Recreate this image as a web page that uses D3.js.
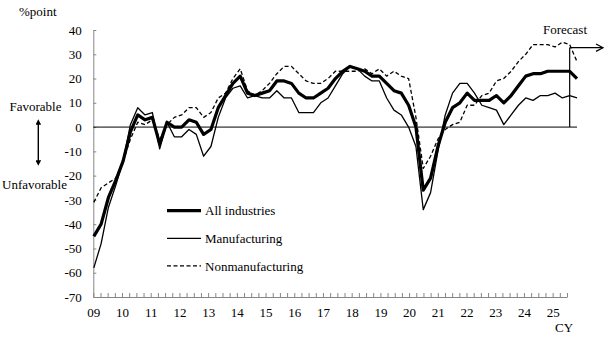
<!DOCTYPE html>
<html>
<head>
<meta charset="utf-8">
<script src="https://cdn.jsdelivr.net/npm/d3@7"></script>
<style>
  body { margin: 0; background: #fff; }
  svg text { fill: #000; font-weight: normal; }
</style>
</head>
<body>
<div id="chart"></div>
<script>
// ------------------------------
//  Business conditions DI, quarterly (09 Q1 - 25 Q3 forecast)
// ------------------------------

const FONT = "'Times New Roman', Times, 'Liberation Serif', Tinos, 'DejaVu Serif', 'Noto Serif', FreeSerif, serif";

// 1. Data, one value per quarter from 09 Q1
const yearLabels = ["09","10","11","12","13","14","15","16","17","18","19","20","21","22","23","24","25"];
const yTicks = [40, 30, 20, 10, 0, -10, -20, -30, -40, -50, -60, -70];

const allIndustries = [
  -45,-40,-29,-22, -14,-2,5,3, 4,-7,2,0, 0,3,2,-3, -1,8,13,18, 21,
  14,13,14,15, 19,19,18,
  14,12,12,14, 16,20,23,25, 24,23,21,21, 18,15,14,9,
  0,-26,-21,-8, 2,8,10,
  14,11,11,11, 13,10,13,17, 21,22,22,23, 23,23,23, 20
];
const manufacturing = [
  -58,-48,-33,-24, -14,1,8,5, 6,-9,2,-4, -4,-1,-3,-12, -8,4,12,16, 17,
  12,13,12,12, 15,12,12,
  6,6,6,10, 12,17,22,25, 24,21,19,19, 12,7,5,0,
  -8,-34,-27,-10, 5,14,18,
  18,14,9,8, 7,1,5,9, 12,11,13,13, 14,12,13, 12
];
const nonmanufacturing = [
  -31,-25,-23,-21, -14,-5,2,1, 3,-5,1,4, 5,8,8,4, 6,12,14,20, 24,
  15,13,15,18, 22,25,25,
  22,19,18,18, 20,23,23,23, 23,24,22,24, 21,23,21,20,
  4,-17,-12,-5, -1,1,2,
  9,9,13,14, 19,20,23,27, 30,34,34,34, 33,35,34, 27
];
const lastActual = 65;   // index of the last actual quarter (forecast starts after it)

const series = [
  { name: "All industries",   values: allIndustries,    width: 3.2, dash: null },
  { name: "Manufacturing",    values: manufacturing,    width: 1.3, dash: null },
  { name: "Nonmanufacturing", values: nonmanufacturing, width: 1.3, dash: "4,2.5" }
];

// 2. SVG
const W = 614, H = 354;
const svg = d3.select("#chart").append("svg")
    .attr("width", W)
    .attr("height", H)
    .style("font-family", FONT);

const defs = svg.append("defs");
defs.append("marker")
    .attr("id", "tri")
    .attr("viewBox", "0 0 10 10")
    .attr("refX", 5).attr("refY", 5)
    .attr("markerWidth", 4).attr("markerHeight", 4)
    .attr("orient", "auto-start-reverse")
  .append("path")
    .attr("d", "M0,0 L10,5 L0,10 Z")
    .attr("fill", "#000");

// 3. Scales
const y = d3.scaleLinear().domain([-70, 40]).range([297, 30]);
const x = d3.scaleLinear().domain([0, manufacturing.length - 1]).range([93.8, 577]);
// axis ticks (one per quarter) are spaced slightly tighter than the data in the picture
const xAxisScale = d3.scaleLinear().domain([0, 66]).range([93.3, 567]);

// 4. Axes
const xAxis = d3.axisBottom(xAxisScale)
    .tickValues(d3.range(0, 67))
    .tickSizeInner(-4)
    .tickSizeOuter(0)
    .tickPadding(11)
    .tickFormat(d => d % 4 === 0 ? yearLabels[d / 4] : "");

const gx = svg.append("g")
    .attr("transform", `translate(0, ${y(-70)})`)
    .call(xAxis);

const yAxis = d3.axisLeft(y)
    .tickValues(yTicks)
    .tickSizeInner(-3)
    .tickSizeOuter(0)
    .tickPadding(11.5)
    .tickFormat(d => d);

const gy = svg.append("g")
    .attr("transform", `translate(${xAxisScale(0)}, 0)`)
    .call(yAxis);

[gx, gy].forEach(g => {
  g.attr("font-family", null).attr("font-size", null);
  g.selectAll("text").style("font-size", "13px");
  g.select(".domain").attr("stroke", "#868686");
  g.selectAll(".tick line").attr("stroke", "#868686");
});

// zero line
svg.append("line")
    .attr("x1", xAxisScale(0)).attr("x2", x(manufacturing.length - 1))
    .attr("y1", y(0)).attr("y2", y(0))
    .attr("stroke", "#000").attr("stroke-width", 1);

// 5. Lines
const line = d3.line()
    .x((d, i) => x(i))
    .y(d => y(d));

svg.selectAll("path.series")
    .data(series)
    .enter()
    .append("path")
      .attr("class", "series")
      .attr("fill", "none")
      .attr("stroke", "#000")
      .attr("stroke-width", d => d.width)
      .attr("stroke-dasharray", d => d.dash)
      .attr("stroke-linejoin", "round")
      .attr("d", d => line(d.values));

// 6. Forecast marker
const fx = x(lastActual);
svg.append("line")
    .attr("x1", fx).attr("x2", fx)
    .attr("y1", y(0)).attr("y2", 47.7)
    .attr("stroke", "#000").attr("stroke-width", 1.2);
svg.append("line")
    .attr("x1", fx).attr("x2", 603)
    .attr("y1", 47.7).attr("y2", 47.7)
    .attr("stroke", "#000").attr("stroke-width", 1.2);
svg.append("path")
    .attr("d", "M596,44 L603,47.7 L596,51.4")
    .attr("fill", "none")
    .attr("stroke", "#000").attr("stroke-width", 1.2);
svg.append("text")
    .attr("x", 565).attr("y", 34)
    .attr("text-anchor", "middle")
    .style("font-size", "13px")
    .text("Forecast");

// 7. Legend
const legend = svg.selectAll("g.legend")
    .data(series)
    .enter()
    .append("g")
      .attr("class", "legend")
      .attr("transform", (d, i) => `translate(167, ${210.7 + i * 27.6})`);

legend.append("line")
    .attr("x1", 0).attr("x2", 34)
    .attr("stroke", "#000")
    .attr("stroke-width", d => d.width)
    .attr("stroke-dasharray", d => d.dash);

legend.append("text")
    .attr("x", 38).attr("y", 4.6)
    .style("font-size", "13px")
    .text(d => d.name);

// 8. Titles and annotations
svg.append("text")
    .attr("x", 19).attr("y", 15.5)
    .style("font-size", "13px")
    .text("%point");

svg.append("text")
    .attr("x", 564).attr("y", 332)
    .attr("text-anchor", "middle")
    .style("font-size", "13px")
    .text("CY");

svg.append("text")
    .attr("x", 35.5).attr("y", 111)
    .attr("text-anchor", "middle")
    .style("font-size", "13px")
    .text("Favorable");

svg.append("text")
    .attr("x", 34.5).attr("y", 189)
    .attr("text-anchor", "middle")
    .style("font-size", "13px")
    .text("Unfavorable");

svg.append("line")
    .attr("x1", 38.3).attr("x2", 38.3)
    .attr("y1", 122).attr("y2", 163)
    .attr("stroke", "#000").attr("stroke-width", 1.4)
    .attr("marker-start", "url(#tri)")
    .attr("marker-end", "url(#tri)");
</script>
</body>
</html>
